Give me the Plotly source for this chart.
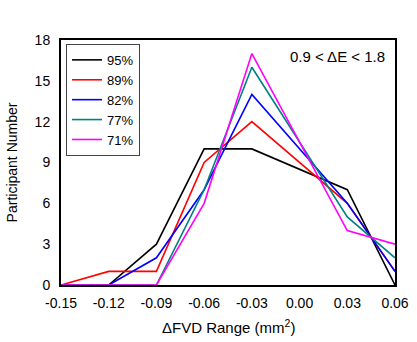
import plotly.graph_objects as go

x_vals = [-0.15, -0.12, -0.09, -0.06, -0.03, 0.03, 0.06]
series_names = ["95%", "89%", "82%", "77%", "71%"]
s95 = [0, 0, 3, 10, 10, 7, 0]
s89 = [0, 1, 1, 9, 12, 6, 1]
s82 = [0, 0, 2, 7, 14, 6, 1]
s77 = [0, 0, 0, 7, 16, 5, 2]
s71 = [0, 0, 0, 6, 17, 4, 3]
colors = ["#000000", "#ff0000", "#0000ff", "#008080", "#ff00ff"]
x_ticks = [-0.15, -0.12, -0.09, -0.06, -0.03, 0.00, 0.03, 0.06]
x_tick_text = ["-0.15", "-0.12", "-0.09", "-0.06", "-0.03", "0.00", "0.03", "0.06"]
y_ticks = [0, 3, 6, 9, 12, 15, 18]

font = "Liberation Sans, Arial, sans-serif"
fig = go.Figure()
for name, ys, c in zip(series_names, [s95, s89, s82, s77, s71], colors):
    fig.add_trace(go.Scatter(x=x_vals, y=ys, mode="lines", name=name,
                             line=dict(color=c, width=1.6), cliponaxis=False))

fig.update_layout(
    width=417, height=342,
    margin=dict(l=61, r=22, t=40, b=57),
    paper_bgcolor="white", plot_bgcolor="white",
    font=dict(family=font, size=14, color="black"),
    showlegend=True,
    legend=dict(x=0.015, y=0.984, xanchor="left", yanchor="top",
                bordercolor="#444", borderwidth=1, bgcolor="white",
                font=dict(size=13), itemwidth=30, tracegroupgap=0),
    xaxis=dict(range=[-0.15, 0.06], tickvals=x_ticks, ticktext=x_tick_text,
               showgrid=False, zeroline=False, showline=True, linecolor="black",
               linewidth=2, mirror=True, ticks="", ticklabelstandoff=4,
               tickfont=dict(size=14), automargin=False),
    yaxis=dict(range=[0, 18], tickvals=y_ticks, showgrid=False, zeroline=False,
               showline=True, linecolor="black", linewidth=2, mirror=True, ticks="",
               ticklabelstandoff=6, tickfont=dict(size=14), automargin=False),
    annotations=[
        dict(text="0.9 < ΔE < 1.8", xref="paper", yref="paper",
             x=0.975, y=0.975, xanchor="right", yanchor="top",
             showarrow=False, font=dict(size=15)),
        dict(text="ΔFVD Range (mm<sup>2</sup>)", xref="paper", yref="paper",
             x=0.5, y=-0.171, xanchor="center", yanchor="middle",
             showarrow=False, font=dict(size=15)),
        dict(text="Participant Number", xref="paper", yref="paper",
             x=-0.147, y=0.5, xanchor="center", yanchor="middle", textangle=-90,
             showarrow=False, font=dict(size=14)),
    ],
)

fig.write_html("out.html")
